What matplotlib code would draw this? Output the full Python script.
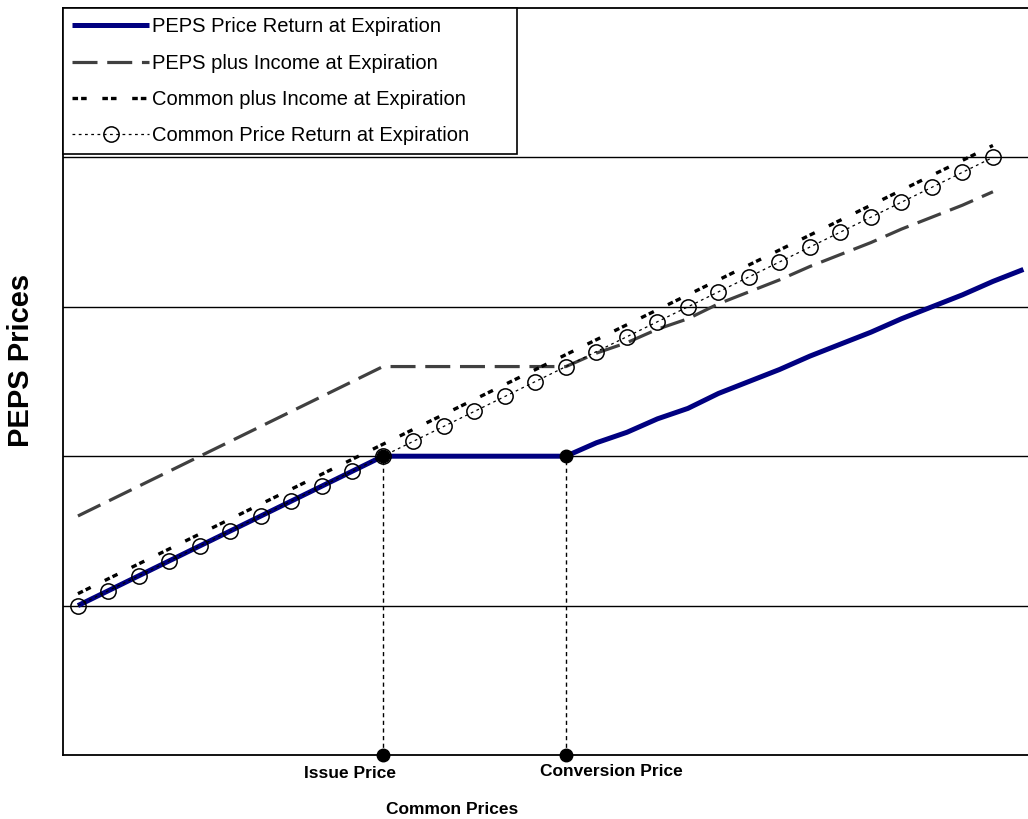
import matplotlib
matplotlib.use("Agg")
import matplotlib.pyplot as plt
from matplotlib.transforms import blended_transform_factory

plt.rcParams['font.family'] = ['Liberation Sans', 'DejaVu Sans']
plt.rcParams['lines.scale_dashes'] = False

# Common share prices along the horizontal axis
common_prices = [1.0, 1.1, 1.2, 1.3, 1.4, 1.5, 1.6, 1.7, 1.8, 1.9, 2.0,
                 2.1, 2.2, 2.3, 2.4, 2.5, 2.6, 2.7, 2.8, 2.9, 3.0,
                 3.1, 3.2, 3.3, 3.4, 3.5, 3.6, 3.7, 3.8, 3.9, 4.0, 4.1]

# PEPS price return at expiration (one more point than the other series)
peps_price = [1.0, 1.1, 1.2, 1.3, 1.4, 1.5, 1.6, 1.7, 1.8, 1.9, 2.0,
              2.0, 2.0, 2.0, 2.0, 2.0, 2.0, 2.09, 2.16, 2.25, 2.32,
              2.42, 2.5, 2.58, 2.67, 2.75, 2.83, 2.92, 3.0, 3.08, 3.17, 3.25]

# PEPS plus income at expiration
peps_plus_income = [1.6, 1.7, 1.8, 1.9, 2.0, 2.1, 2.2, 2.3, 2.4, 2.5, 2.6,
                    2.6, 2.6, 2.6, 2.6, 2.6, 2.6, 2.69, 2.76, 2.85, 2.92,
                    3.02, 3.1, 3.18, 3.27, 3.35, 3.43, 3.52, 3.6, 3.68, 3.77]

# Common plus income at expiration
common_plus_income = [1.08, 1.18, 1.28, 1.38, 1.48, 1.58, 1.68, 1.78, 1.88, 1.98, 2.08,
                      2.18, 2.28, 2.38, 2.48, 2.58, 2.68, 2.78, 2.88, 2.98, 3.08,
                      3.18, 3.28, 3.38, 3.48, 3.58, 3.68, 3.78, 3.88, 3.98, 4.08]

# Common price return at expiration
common_price = [1.0, 1.1, 1.2, 1.3, 1.4, 1.5, 1.6, 1.7, 1.8, 1.9, 2.0,
                2.1, 2.2, 2.3, 2.4, 2.5, 2.6, 2.7, 2.8, 2.9, 3.0,
                3.1, 3.2, 3.3, 3.4, 3.5, 3.6, 3.7, 3.8, 3.9, 4.0]

issue_price = 2.0
conversion_price = 2.6
peps_floor = 2.0
grid_levels = [1, 2, 3, 4]

series_labels = ["PEPS Price Return at Expiration",
                 "PEPS plus Income at Expiration",
                 "Common plus Income at Expiration",
                 "Common Price Return at Expiration"]

fig = plt.figure(figsize=(10.28, 8.19), dpi=100)
ax = fig.add_axes([63 / 1028, 1 - 755 / 819, 1 - 63 / 1028, (755 - 8) / 819])
ax.set_xlim(0.951, 4.115)
ax.set_ylim(0, 5)

for lvl in grid_levels:
    ax.axhline(lvl, color='black', lw=1.0, zorder=1)

n = len(common_price)
h_peps, = ax.plot(common_prices, peps_price, color='#000080', lw=3.6,
                  solid_capstyle='butt', zorder=3, label=series_labels[0])
h_pinc, = ax.plot(common_prices[:n], peps_plus_income, color='#404040', lw=2.3,
                  dashes=(18, 7), zorder=3, label=series_labels[1])
h_cinc, = ax.plot(common_prices[:n], common_plus_income, color='black', lw=2.4,
                  dashes=(4, 2.2, 4, 11.3), zorder=4, label=series_labels[2])
h_com, = ax.plot(common_prices[:n], common_price, color='black', lw=0.9,
                 dashes=(2, 2.5), marker='o', ms=11, mfc='none', mec='black',
                 mew=1.1, zorder=5, label=series_labels[3])

# Reference lines down to the issue and conversion prices
for p in (issue_price, conversion_price):
    ax.plot([p, p], [0, peps_floor], color='black', lw=1.0, dashes=(3, 2.5), zorder=2)
ax.plot([issue_price, conversion_price], [peps_floor, peps_floor], 'o', color='black',
        ms=9, zorder=6, clip_on=False)
ax.plot([issue_price, conversion_price], [0, 0], 'o', color='black',
        ms=9, zorder=6, clip_on=False)

for s in ('left', 'bottom', 'top'):
    ax.spines[s].set_linewidth(1.3)
ax.spines['right'].set_visible(False)
ax.set_xticks([])
ax.set_yticks([])

trans = blended_transform_factory(ax.transData, ax.transAxes)
ax.annotate("Issue Price", xy=(issue_price, 0), xycoords=trans,
            xytext=(-33, -19), textcoords='offset pixels',
            ha='center', va='center', fontsize=12.5, fontweight='bold')
ax.annotate("Conversion Price", xy=(conversion_price, 0), xycoords=trans,
            xytext=(45, -16), textcoords='offset pixels',
            ha='center', va='center', fontsize=12.5, fontweight='bold')
fig.text(452 / 1028, 1 - 809 / 819, "Common Prices", ha='center', va='center',
         fontsize=12.5, fontweight='bold')
fig.text(21 / 1028, 1 - 360 / 819, "PEPS Prices", ha='center', va='center',
         rotation=90, fontsize=21, fontweight='bold')

leg = ax.legend(handles=[h_peps, h_pinc, h_cinc, h_com], loc='upper left',
                bbox_to_anchor=(0, 0, (517 - 63) / 965, 1), mode='expand',
                borderaxespad=0, fancybox=False, framealpha=1, edgecolor='black',
                fontsize=14.5, handlelength=3.8, handletextpad=0.15,
                labelspacing=0.86, borderpad=0.46, numpoints=1)
leg.get_frame().set_linewidth(1.2)
leg.set_zorder(10)

fig.savefig("out.png", dpi=100)
